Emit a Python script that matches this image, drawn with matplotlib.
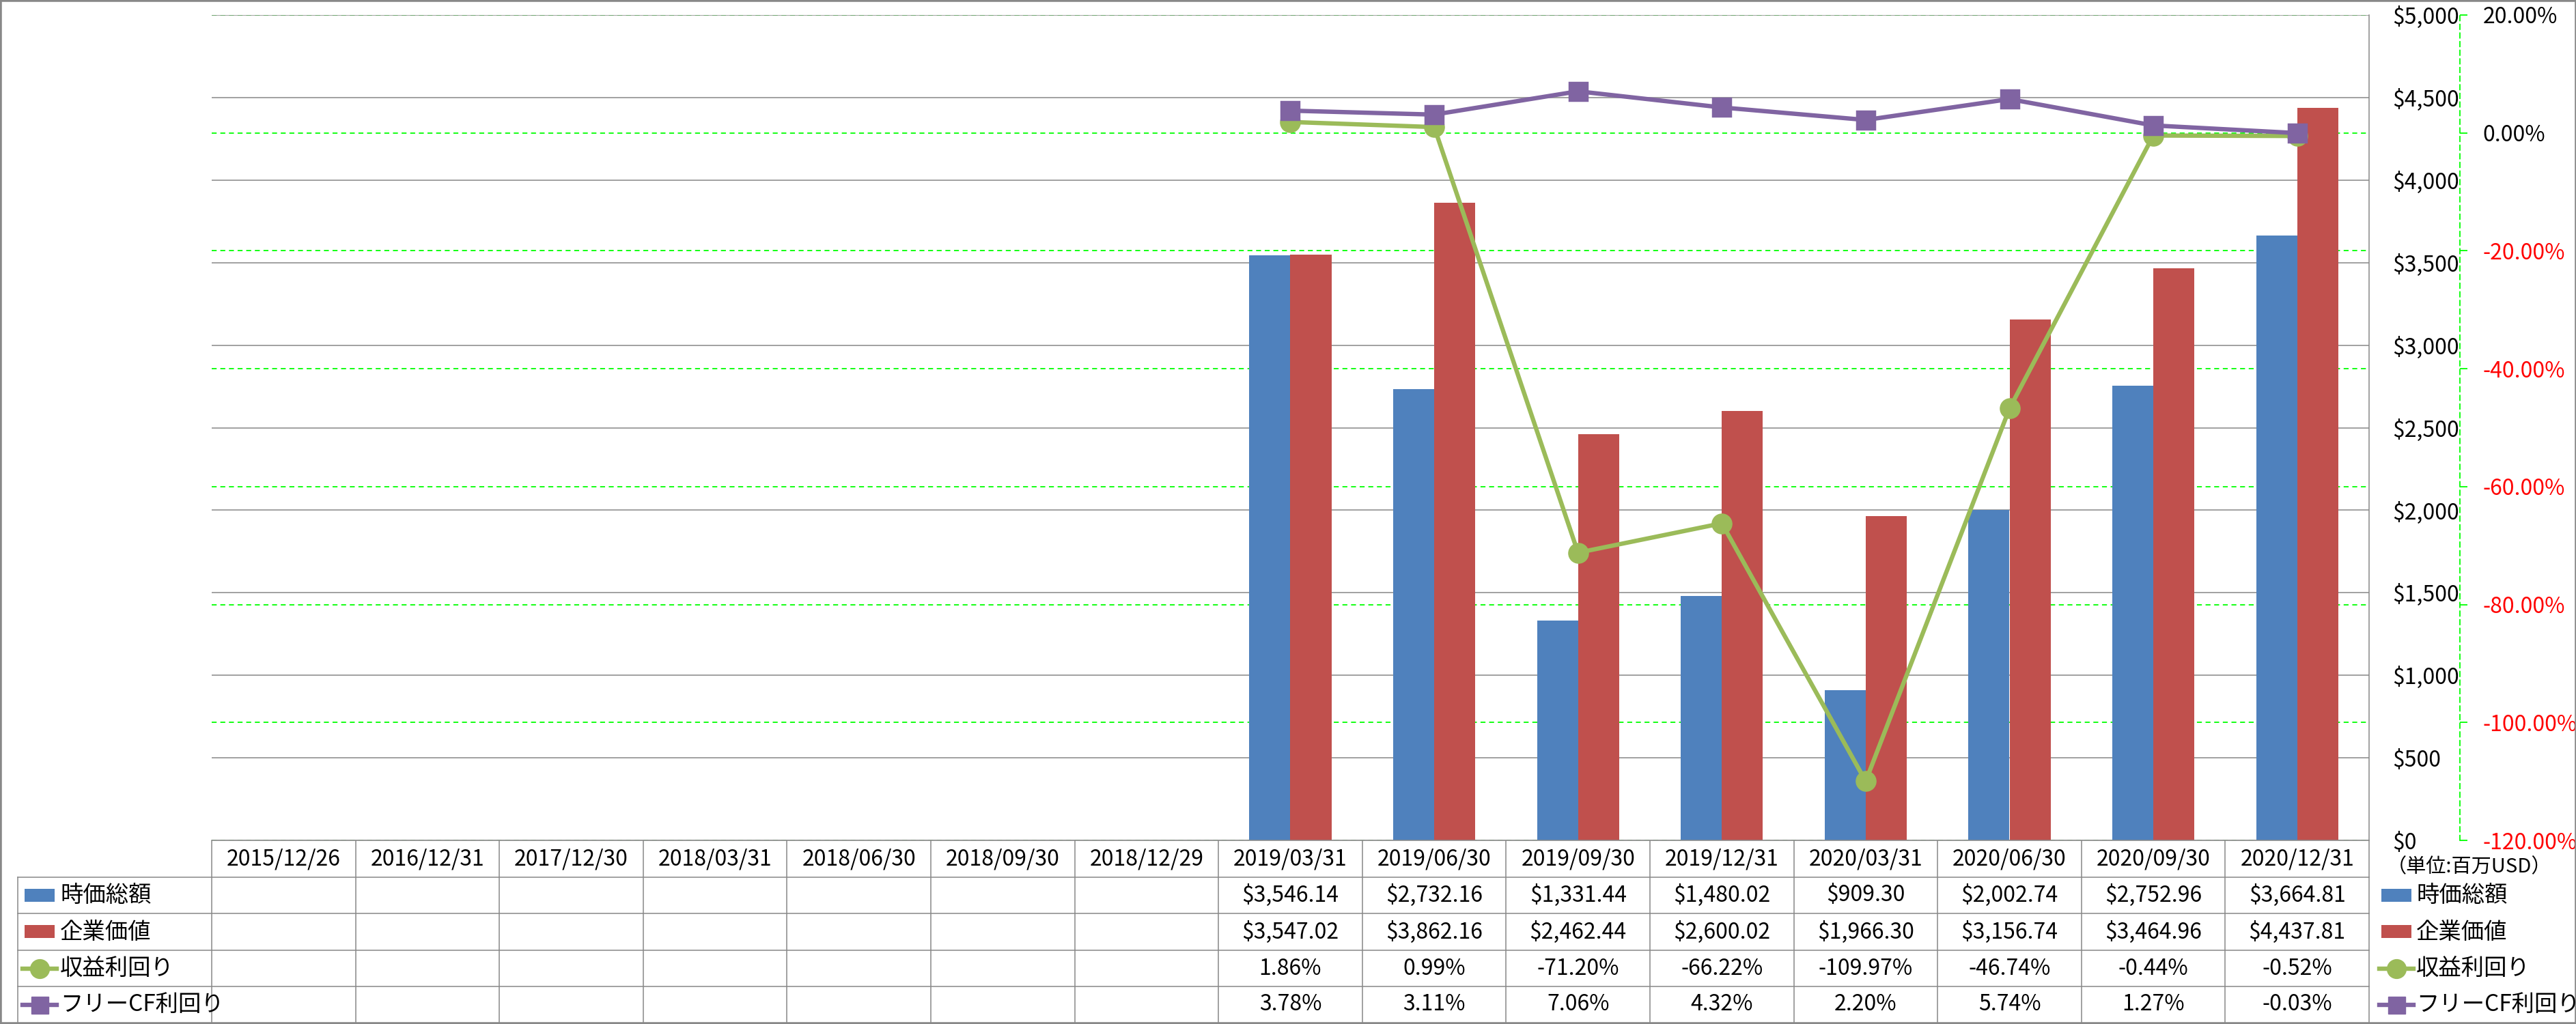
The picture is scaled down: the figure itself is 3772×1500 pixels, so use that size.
import numpy as np
import matplotlib
matplotlib.use("Agg")
import matplotlib.pyplot as plt
from matplotlib.lines import Line2D
from matplotlib.patches import Rectangle
from matplotlib.transforms import blended_transform_factory
from matplotlib.ticker import FuncFormatter

plt.rcParams['font.family'] = ['Noto Sans CJK JP', 'DejaVu Sans']

categories = ["2015/12/26", "2016/12/31", "2017/12/30", "2018/03/31", "2018/06/30",
              "2018/09/30", "2018/12/29", "2019/03/31", "2019/06/30", "2019/09/30",
              "2019/12/31", "2020/03/31", "2020/06/30", "2020/09/30", "2020/12/31"]
nan = np.nan
market_cap = [nan, nan, nan, nan, nan, nan, nan,
              3546.14, 2732.16, 1331.44, 1480.02, 909.30, 2002.74, 2752.96, 3664.81]
enterprise_value = [nan, nan, nan, nan, nan, nan, nan,
                    3547.02, 3862.16, 2462.44, 2600.02, 1966.30, 3156.74, 3464.96, 4437.81]
earnings_yield = [nan, nan, nan, nan, nan, nan, nan,
                  1.86, 0.99, -71.20, -66.22, -109.97, -46.74, -0.44, -0.52]
fcf_yield = [nan, nan, nan, nan, nan, nan, nan,
             3.78, 3.11, 7.06, 4.32, 2.20, 5.74, 1.27, -0.03]
series_names = ["時価総額", "企業価値", "収益利回り", "フリーCF利回り"]
unit_label = "（単位:百万USD）"

BLUE = "#4F81BD"
RED = "#C0504D"
GREEN = "#9BBB59"
PURPLE = "#8064A2"
GRAY = "#888888"
LIME = "#00FF00"
FS = 23

W, H = 3773, 1500
DPI = 100
fig = plt.figure(figsize=(W / DPI, H / DPI), dpi=DPI)
fig.patch.set_facecolor("white")

def fx(px):
    return px / W

def fy(py):
    return 1 - py / H

L, R, T, B = 310, 3469, 22, 1231
rect = [fx(L), fy(B), fx(R) - fx(L), fy(T) - fy(B)]
x = np.arange(len(categories))

# secondary scale axes (grid + labels), drawn lowest
axg = fig.add_axes(rect)
axg.set_xlim(-0.5, len(categories) - 0.5)
axg.set_ylim(-120, 20)
axg.set_yticks(np.arange(-120, 21, 20))
axg.set_xticks([])
axg.yaxis.tick_right()
axg.grid(axis='y', color=LIME, linestyle=(0, (4, 3)), linewidth=1.3)
for s in ["left", "top", "bottom"]:
    axg.spines[s].set_visible(False)
axg.spines["right"].set_position(("outward", (3602 - R) * 0.72))
axg.spines["right"].set_color(LIME)
axg.spines["right"].set_linestyle((0, (4, 3)))
axg.spines["right"].set_linewidth(1.3)
axg.tick_params(axis='y', direction='out', length=8, width=1.3, color=LIME,
                pad=16, labelsize=FS)
axg.yaxis.set_major_formatter(FuncFormatter(lambda v, p: f"{v:.2f}%"))
fig.canvas.draw()
for lab, v in zip(axg.get_yticklabels(), axg.get_yticks()):
    lab.set_color("red" if v < 0 else "black")

# primary axes: bars
ax = fig.add_axes(rect)
ax.patch.set_alpha(0)
ax.set_xlim(-0.5, len(categories) - 0.5)
ax.set_ylim(0, 5000)
ax.set_yticks(np.arange(0, 5001, 500))
ax.set_xticks([])
ax.yaxis.tick_right()
ax.yaxis.set_major_formatter(FuncFormatter(lambda v, p: f"${v:,.0f}"))
ax.tick_params(axis='y', length=0, pad=(3503 - R) * 0.72, labelsize=FS)
ax.grid(axis='y', color=GRAY, linewidth=1.1)
ax.set_axisbelow(True)
for s in ["left", "top"]:
    ax.spines[s].set_visible(False)
ax.spines["right"].set_color(GRAY)
ax.spines["bottom"].set_color(GRAY)
ax.spines["right"].set_linewidth(1.1)
ax.spines["bottom"].set_linewidth(1.1)
bw = 0.285
ax.bar(x - bw / 2, market_cap, width=bw, color=BLUE, zorder=2)
ax.bar(x + bw / 2, enterprise_value, width=bw, color=RED, zorder=2)

# lines axes
axl = fig.add_axes(rect)
axl.patch.set_alpha(0)
axl.set_xlim(-0.5, len(categories) - 0.5)
axl.set_ylim(-120, 20)
axl.axis("off")
axl.plot(x, earnings_yield, color=GREEN, lw=4.6, marker='o', markersize=21,
         markerfacecolor=GREEN, markeredgecolor=GREEN, clip_on=False, zorder=3)
axl.plot(x, fcf_yield, color=PURPLE, lw=4.6, marker='s', markersize=19,
         markerfacecolor=PURPLE, markeredgecolor=PURPLE, markeredgewidth=2.5,
         clip_on=False, zorder=4)

# data table
bt = blended_transform_factory(ax.transData, fig.transFigure)
rows_y = [1232, 1285, 1338, 1392, 1445, 1498]
for yy in rows_y[1:5]:
    fig.add_artist(Line2D([fx(26), fx(R)], [fy(yy), fy(yy)], color=GRAY, lw=1.1))
for k in range(len(categories) + 1):
    fig.add_artist(Line2D([k - 0.5, k - 0.5], [fy(1232), fy(1498)], color=GRAY,
                          lw=1.1, transform=bt))
fig.add_artist(Line2D([fx(26), fx(26)], [fy(1285), fy(1498)], color=GRAY, lw=1.1))

row_c = [(rows_y[i] + rows_y[i + 1]) / 2 for i in range(5)]
for i, c in enumerate(categories):
    ax.text(i, fy(row_c[0]), c, transform=bt, ha='center', va='center', fontsize=FS)
    if not np.isnan(market_cap[i]):
        ax.text(i, fy(row_c[1]), f"${market_cap[i]:,.2f}", transform=bt,
                ha='center', va='center', fontsize=FS)
        ax.text(i, fy(row_c[2]), f"${enterprise_value[i]:,.2f}", transform=bt,
                ha='center', va='center', fontsize=FS)
        ax.text(i, fy(row_c[3]), f"{earnings_yield[i]:.2f}%", transform=bt,
                ha='center', va='center', fontsize=FS)
        ax.text(i, fy(row_c[4]), f"{fcf_yield[i]:.2f}%", transform=bt,
                ha='center', va='center', fontsize=FS)

def legend_key(x0, yc, kind, color):
    if kind == "bar":
        fig.add_artist(Rectangle((fx(x0), fy(yc + 9)), fx(44), 19 / H,
                                 facecolor=color, edgecolor='none'))
    else:
        mk = 'o' if kind == "circle" else 's'
        fig.add_artist(Line2D([fx(x0 - 3), fx(x0 + 47)], [fy(yc), fy(yc)], color=color,
                              lw=4.6))
        fig.add_artist(Line2D([fx(x0 + 22)], [fy(yc)], color=color, marker=mk,
                              markersize=20 if mk == 'o' else 18, markeredgecolor=color))

kinds = ["bar", "bar", "circle", "square"]
colors = [BLUE, RED, GREEN, PURPLE]
for j in range(4):
    yc = row_c[j + 1]
    legend_key(36, yc, kinds[j], colors[j])
    fig.text(fx(88), fy(yc), series_names[j], ha='left', va='center', fontsize=FS + 1)
    legend_key(3487, yc, kinds[j], colors[j])
    fig.text(fx(3538), fy(yc), series_names[j], ha='left', va='center', fontsize=FS + 1)

fig.text(fx(3495), fy(1270), unit_label, ha='left', va='center', fontsize=21)

# outer border
fig.add_artist(Rectangle((0, 0), 1, 1, transform=fig.transFigure, fill=False,
                         edgecolor=GRAY, lw=4))

fig.savefig("out.png", dpi=DPI, facecolor="white")
